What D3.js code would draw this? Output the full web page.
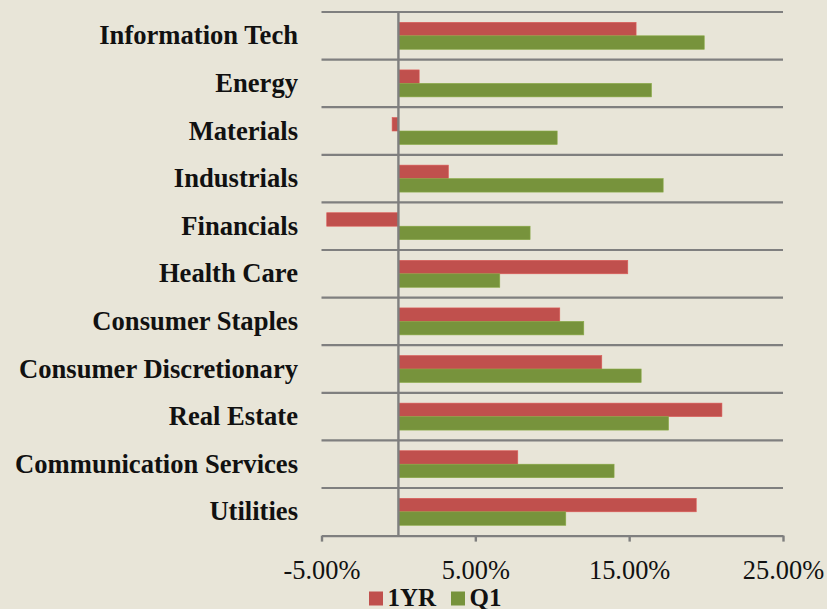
<!DOCTYPE html>
<html>
<head>
<meta charset="utf-8">
<script src="https://cdn.jsdelivr.net/npm/d3@7"></script>
<style>
html,body{margin:0;padding:0;background:#E8E5D8;}
svg{display:block;}
</style>
</head>
<body>
<svg id="chart" width="827" height="609"></svg>
<script>
const categories = ["Information Tech","Energy","Materials","Industrials","Financials","Health Care","Consumer Staples","Consumer Discretionary","Real Estate","Communication Services","Utilities"];
const seriesNames = ["1YR","Q1"];
const oneYear = [15.45, 1.35, -0.41, 3.25, -4.66, 14.91, 10.49, 13.22, 21.03, 7.76, 19.36];
const q1 = [19.88, 16.45, 10.32, 17.21, 8.56, 6.59, 12.05, 15.78, 17.56, 14.02, 10.88];
const tickValues = [-5, 5, 15, 25];
const colors = ["#C0504D", "#77933C"];

const svg = d3.select("#chart");
const W = 827, H = 609;
svg.append("rect").attr("width", W).attr("height", H).attr("fill", "#E8E5D8");

const x = d3.scaleLinear().domain([-5, 25]).range([321.5, 783]);
const y = d3.scaleBand().domain(categories).range([12, 535.6]).paddingInner(0).paddingOuter(0);
const sub = d3.scaleBand().domain(seriesNames).range([0, y.bandwidth()]).paddingInner(0).paddingOuter(0.765);

const gridColor = "#7F7F7F";
const serif = "'Liberation Serif', 'Times New Roman', serif";

// horizontal gridlines at category boundaries
const bounds = categories.map(c => y(c));
svg.append("g").selectAll("line").data(bounds).join("line")
  .attr("x1", x(-5)).attr("x2", x(25))
  .attr("y1", d => d).attr("y2", d => d)
  .attr("stroke", gridColor).attr("stroke-width", 2.2);

// bars
const data = categories.map((c, i) => ({c, vals: [oneYear[i], q1[i]]}));
const g = svg.append("g");
data.forEach(d => {
  d.vals.forEach((v, j) => {
    g.append("rect")
      .attr("x", x(Math.min(0, v)))
      .attr("width", Math.abs(x(v) - x(0)))
      .attr("y", y(d.c) + sub(seriesNames[j]))
      .attr("height", sub.bandwidth())
      .attr("fill", colors[j])
      .attr("stroke", d3.color(colors[j]).brighter(0.4))
      .attr("stroke-width", 0.6);
  });
});

// vertical zero axis
svg.append("line")
  .attr("x1", x(0)).attr("x2", x(0))
  .attr("y1", 12).attr("y2", 535.6)
  .attr("stroke", gridColor).attr("stroke-width", 2.4);

// x axis
const xAxis = d3.axisBottom(x).tickValues(tickValues).tickSize(6).tickSizeOuter(0)
  .tickFormat(d => d.toFixed(2) + "%");
const ax = svg.append("g").attr("transform", "translate(0,535.6)").call(xAxis);
ax.select(".domain").attr("stroke", gridColor).attr("stroke-width", 2.4);
ax.selectAll(".tick line").attr("stroke", gridColor).attr("stroke-width", 2.4);
ax.selectAll(".tick text")
  .attr("y", 25).attr("dy", "0.71em")
  .attr("font-family", serif)
  .attr("font-size", 26.4).attr("fill", "#111");

// category labels
const yAxis = d3.axisLeft(y).tickSize(0);
const ay = svg.append("g").attr("transform", "translate(298,0)").call(yAxis);
ay.select(".domain").remove();
ay.selectAll(".tick text")
  .attr("x", 0).attr("dy", "0.32em")
  .attr("font-family", serif)
  .attr("font-weight", "bold")
  .attr("font-size", 26.6).attr("fill", "#111");

// legend
const legend = svg.append("g").attr("transform", "translate(369,0)");
const legendItems = [{name: seriesNames[0], color: colors[0], x: 0}, {name: seriesNames[1], color: colors[1], x: 82}];
legendItems.forEach(it => {
  legend.append("rect").attr("x", it.x).attr("y", 591.5).attr("width", 14).attr("height", 14).attr("fill", it.color);
  legend.append("text").attr("x", it.x + 18.5).attr("y", 605.5)
    .attr("font-family", serif)
    .attr("font-weight", "bold").attr("font-size", 25).attr("fill", "#111")
    .text(it.name);
});
</script>
</body>
</html>
